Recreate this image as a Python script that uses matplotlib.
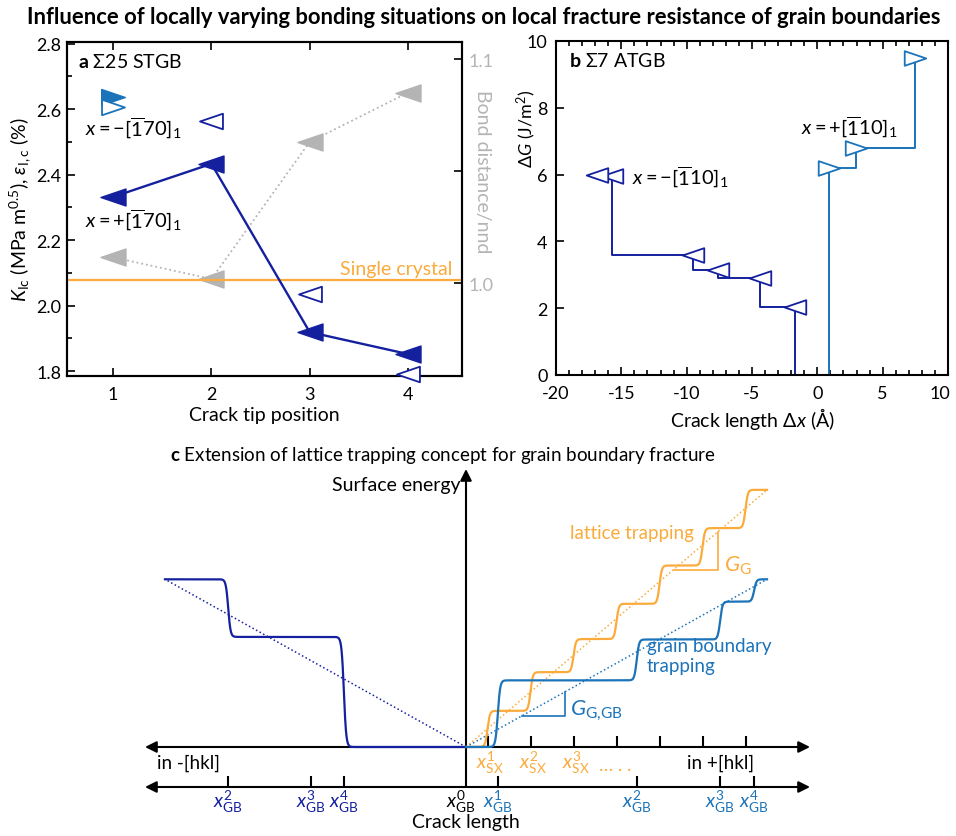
import numpy as np
import matplotlib
matplotlib.use("Agg")
import matplotlib.pyplot as plt
from matplotlib.path import Path
from matplotlib.ticker import MultipleLocator, FixedLocator, FuncFormatter

plt.rcParams["font.family"] = ["Lato", "DejaVu Sans"]
plt.rcParams["mathtext.fontset"] = "custom"
plt.rcParams["mathtext.rm"] = "Lato"
plt.rcParams["mathtext.it"] = "Lato:italic"
plt.rcParams["mathtext.bf"] = "Lato:bold"
plt.rcParams["mathtext.fallback"] = "stixsans"

NAVY = "#14209e"
BLUE = "#1b73b9"
ORANGE = "#fbab3c"
GREY = "#b4b4b4"

# ---------------- panel a: Sigma25 STGB ----------------
tip_pos = [1, 2, 3, 4]
k_plus = [2.332, 2.433, 1.919, 1.852]          # x = +[-170]_1 (filled)
k_minus_pos = [2, 3, 4]
k_minus = [2.565, 2.035, 1.79]                  # x = -[-170]_1 (open)
bond_ratio = [1.0115, 1.0018, 1.063, 1.085]     # bond distance / nnd
k_single_crystal = 2.078
ref_pos = [1]
ref_filled = [2.637]
ref_open = [2.607]

# ---------------- panel b: Sigma7 ATGB ----------------
dx_minus = [-1.7, -4.4, -7.6, -9.5, -15.7, -16.9]
dg_minus = [2.05, 2.9, 3.15, 3.6, 5.95, 6.0]
dx_plus = [0.9, 2.95, 7.45]
dg_plus = [6.2, 6.8, 9.5]

# ---------------- panel c: trapping schematic ----------------
sx_steps = [0.5, 1.5, 2.5, 3.5, 4.5, 5.5, 6.5]
sx_levels = [0.84, 1.74, 2.51, 3.33, 4.22, 5.09, 5.98]
sx_end = 7.0
gb_pos_steps = [0.74, 3.97, 5.91, 6.70]
gb_pos_levels = [1.55, 2.50, 3.38, 3.90]
gb_neg_steps = [-2.84, -5.53]
gb_neg_levels = [2.56, 3.90]
gb_neg_ticks = [-5.53, -3.60, -2.84]
gb_neg_names = [2, 3, 4]
gb_pos_names = [1, 2, 3, 4]
sx_names = [1, 2, 3]
gg_tri = [4.83, 5.86]
ggb_tri = [1.30, 2.30]

# triangle markers, wider than tall
TRI_L = Path([(-1, 0), (1, 0.68), (1, -0.68), (-1, 0)], closed=True)
TRI_R = Path([(1, 0), (-1, 0.68), (-1, -0.68), (1, 0)], closed=True)

W, H = 956, 837
fig = plt.figure(figsize=(W / 100, H / 100), dpi=100)


def box(x0, y0, x1, y1):
    return [x0 / W, 1 - y1 / H, (x1 - x0) / W, (y1 - y0) / H]


fig.text(484 / W, 1 - 17 / H,
         "Influence of locally varying bonding situations on local fracture resistance of grain boundaries",
         ha="center", va="center", fontsize=15.8, fontweight="bold")

# ---------- panel a ----------
ax = fig.add_axes(box(67, 43, 462, 377))
ax.set_xlim(0.53, 4.55)
ax.set_ylim(1.785, 2.805)
ax.yaxis.set_major_locator(MultipleLocator(0.2))
ax.yaxis.set_minor_locator(MultipleLocator(0.1))
ax.xaxis.set_major_locator(FixedLocator(tip_pos))
ax.tick_params(which="both", direction="in", top=True, right=False, width=1.2,
               labelsize=13)
ax.tick_params(which="major", length=6)
ax.tick_params(which="minor", length=3.5)
ax.tick_params(axis="x", pad=7)
ax.tick_params(axis="y", pad=4)
ax.yaxis.set_major_formatter(plt.FormatStrFormatter("%.1f"))
for s in ax.spines.values():
    s.set_linewidth(1.5)

ax2 = ax.twinx()
ax2.set_ylim(0.9585, 1.1076)
ax2.yaxis.set_major_locator(FixedLocator([1.0, 1.1]))
ax2.yaxis.set_minor_locator(FixedLocator([1.05]))
ax2.yaxis.set_major_formatter(plt.FormatStrFormatter("%.1f"))
ax2.tick_params(which="both", direction="in", width=1.2, labelsize=13,
                labelcolor=GREY, pad=5)
ax2.tick_params(which="major", length=6)
ax2.tick_params(which="minor", length=6)
for s in ax2.spines.values():
    s.set_linewidth(1.5)
ax2.set_ylabel("Bond distance/nnd", rotation=-90, color=GREY, fontsize=14,
               va="center")
ax2.yaxis.set_label_coords(1.053, 0.614)

ax2.plot(tip_pos, bond_ratio, ls=":", color=GREY, lw=1.3, zorder=2)
ax2.plot(tip_pos, bond_ratio, ls="none", marker=TRI_L, ms=18, mfc=GREY,
         mec=GREY, zorder=3)

ax.axhline(k_single_crystal, color=ORANGE, lw=1.6, zorder=1)
ax.text(0.975, 0.322, "Single crystal", transform=ax.transAxes, ha="right",
        va="center", color=ORANGE, fontsize=14)

ax.set_zorder(ax2.get_zorder() + 1)
ax.patch.set_visible(False)
ax.plot(tip_pos, k_plus, color=NAVY, lw=1.7, zorder=2)
ax.plot(tip_pos, k_plus, ls="none", marker=TRI_L, ms=18, mfc=NAVY, mec=NAVY,
        zorder=3)
ax.plot(k_minus_pos, k_minus, ls="none", marker=TRI_L, ms=16.5, mfc="white",
        mec=NAVY, mew=1.3, zorder=4, clip_on=False)
ax.plot(ref_pos, ref_filled, ls="none", marker=TRI_R, ms=17, mfc=BLUE,
        mec=BLUE, zorder=4)
ax.plot(ref_pos, ref_open, ls="none", marker=TRI_R, ms=16.5, mfc="white",
        mec=BLUE, mew=1.3, zorder=5)

ax.text(0.028, 0.943, r"$\mathbf{a}$ Σ25 STGB", transform=ax.transAxes,
        fontsize=14, va="center")
ax.text(0.046, 0.745, r"$x = -[\overline{1}70]_1$", transform=ax.transAxes,
        fontsize=14.5, va="center")
ax.text(0.046, 0.47, r"$x = +[\overline{1}70]_1$", transform=ax.transAxes,
        fontsize=14.5, va="center")
ax.set_xlabel("Crack tip position", fontsize=14, labelpad=3)
ax.set_ylabel(r"$K_{\mathrm{Ic}}$ (MPa m$^{0.5}$), $\varepsilon_{\mathrm{I,c}}$ (%)",
              fontsize=14)
ax.yaxis.set_label_coords(-0.087, 0.5)

# ---------- panel b ----------
bx = fig.add_axes(box(556, 42, 948, 376))
bx.set_xlim(-20, 10)
bx.set_ylim(0, 10)
bx.xaxis.set_major_locator(MultipleLocator(5))
bx.xaxis.set_minor_locator(MultipleLocator(1))
bx.yaxis.set_major_locator(MultipleLocator(2))
# the label at the right end is placed by hand so it stays inside the figure
bx.xaxis.set_major_formatter(
    FuncFormatter(lambda v, p: "" if v >= 10 else f"{v:.0f}"))
bx.tick_params(which="both", direction="in", top=True, width=1.2, labelsize=13)
bx.tick_params(which="major", length=6)
bx.tick_params(which="minor", length=3.5)
bx.tick_params(axis="x", pad=7)
bx.tick_params(axis="y", pad=6)
for s in bx.spines.values():
    s.set_linewidth(1.5)
bx.text(1.005, -0.029, "10", transform=bx.transAxes, ha="right", va="top",
        fontsize=13)

sx_m = [dx_minus[0]] + dx_minus
sy_m = [0] + dg_minus
bx.step(sx_m, sy_m, where="post", color=NAVY, lw=1.4, zorder=2)
bx.plot(dx_minus, dg_minus, ls="none", marker=TRI_L, ms=15.5, mfc="white",
        mec=NAVY, mew=1.3, zorder=3)
sx_p = [dx_plus[0]] + dx_plus
sy_p = [0] + dg_plus
bx.step(sx_p, sy_p, where="post", color=BLUE, lw=1.4, zorder=2)
bx.plot(dx_plus, dg_plus, ls="none", marker=TRI_R, ms=15.5, mfc="white",
        mec=BLUE, mew=1.3, zorder=3)

bx.text(0.033, 0.943, r"$\mathbf{b}$ Σ7 ATGB", transform=bx.transAxes,
        fontsize=14, va="center")
bx.text(-14.2, 5.95, r"$x = -[\overline{1}10]_1$", fontsize=14.5, va="center")
bx.text(-1.25, 7.45, r"$x = +[\overline{1}10]_1$", fontsize=14.5, va="center")
bx.set_xlabel(r"Crack length $\Delta x$ (Å)", fontsize=14, labelpad=3)
bx.set_ylabel(r"$\Delta G$ (J/m$^2$)", fontsize=13)
bx.yaxis.set_label_coords(-0.045, 0.74)

# ---------- panel c ----------
U = 43.0          # pixels per schematic unit
OX, OY = 466, 748  # origin in pixels
cx = fig.add_axes(box(130, 465, 830, 835))
cx.set_xlim((130 - OX) / U, (830 - OX) / U)
cx.set_ylim((OY - 835) / U, (OY - 465) / U)
cx.axis("off")

fig.text(170 / W, 1 - 456 / H,
         r"$\mathbf{c}$ Extension of lattice trapping concept for grain boundary fracture",
         fontsize=13.5, va="center", ha="left")

y_low = (OY - 788) / U
x_left = (145 - OX) / U
x_right = (810 - OX) / U
y_top = (OY - 470) / U
arrow = dict(color="k", lw=1.5, mutation_scale=17, shrinkA=0, shrinkB=0)
cx.annotate("", xy=(x_right, 0), xytext=(x_left, 0),
            arrowprops=dict(arrowstyle="<|-|>", **arrow))
cx.annotate("", xy=(x_right, y_low), xytext=(x_left, y_low),
            arrowprops=dict(arrowstyle="<|-|>", **arrow))
cx.annotate("", xy=(0, y_top), xytext=(0, y_low),
            arrowprops=dict(arrowstyle="-|>", **arrow))

tick_h = 0.26
cx.vlines(sx_steps, 0, tick_h, color="k", lw=1.5)
cx.vlines(gb_pos_steps + gb_neg_ticks, y_low, y_low + tick_h, color="k", lw=1.5)


def smooth_steps(x, steps, levels, w=0.055, sign=1):
    y = np.zeros_like(x)
    prev = 0.0
    for s, lv in zip(steps, levels):
        y += (lv - prev) * 0.5 * (1 + np.tanh(sign * (x - s) / w))
        prev = lv
    return y


xs = np.linspace(0, sx_end, 1500)
cx.plot(xs, smooth_steps(xs, sx_steps, sx_levels), color=ORANGE, lw=1.6, zorder=4)
cx.plot([0, sx_end], [0, sx_levels[-1]], ls=":", color=ORANGE, lw=1.1, zorder=3)
cx.plot(xs, smooth_steps(xs, gb_pos_steps, gb_pos_levels), color=BLUE, lw=1.6,
        zorder=5)
cx.plot([0, sx_end], [0, gb_pos_levels[-1]], ls=":", color=BLUE, lw=1.1, zorder=3)
xn = np.linspace(-sx_end, 0, 1500)
cx.plot(xn, smooth_steps(xn, gb_neg_steps, gb_neg_levels, sign=-1), color=NAVY,
        lw=1.6, zorder=4)
cx.plot([0, -sx_end], [0, gb_neg_levels[-1]], ls=":", color=NAVY, lw=1.1, zorder=3)

# slope triangles
k_sx = sx_levels[-1] / sx_end
k_gb = gb_pos_levels[-1] / sx_end
cx.plot([gg_tri[0], gg_tri[1], gg_tri[1]],
        [k_sx * gg_tri[0], k_sx * gg_tri[0], k_sx * gg_tri[1]],
        color=ORANGE, lw=1.2, zorder=3)
cx.plot([ggb_tri[0], ggb_tri[1], ggb_tri[1]],
        [k_gb * ggb_tri[0], k_gb * ggb_tri[0], k_gb * ggb_tri[1]],
        color=BLUE, lw=1.2, zorder=3)
cx.text(gg_tri[1] + 0.15, k_sx * gg_tri[0] + 0.12, r"$G_{\mathrm{G}}$",
        color=ORANGE, fontsize=16, va="center")
cx.text(ggb_tri[1] + 0.12, k_gb * ggb_tri[0] + 0.15, r"$G_{\mathrm{G{,}GB}}$",
        color=BLUE, fontsize=16, va="center")

cx.text(2.42, 5.0, "lattice trapping", color=ORANGE, fontsize=13.5, va="center")
cx.text(4.21, 2.13, "grain boundary\ntrapping", color=BLUE, fontsize=13.5,
        va="center", linespacing=1.25)

lab_sx_y = (OY - 763) / U
lab_gb_y = (OY - 802) / U
for n, s in zip(sx_names, sx_steps):
    cx.text(s + 0.05, lab_sx_y, rf"$x^{{{n}}}_{{\mathrm{{SX}}}}$", color=ORANGE,
            fontsize=14, ha="center", va="center")
cx.text(3.1, lab_sx_y - 0.05, "… . .", color=ORANGE, fontsize=13.5, va="center")
for n, s in zip(gb_pos_names, gb_pos_steps):
    cx.text(s, lab_gb_y, rf"$x^{{{n}}}_{{\mathrm{{GB}}}}$", color=BLUE,
            fontsize=14, ha="center", va="center")
for n, s in zip(gb_neg_names, gb_neg_ticks):
    cx.text(s, lab_gb_y, rf"$x^{{{n}}}_{{\mathrm{{GB}}}}$", color=NAVY,
            fontsize=14, ha="center", va="center")
cx.text(-0.12, lab_gb_y, r"$x^{0}_{\mathrm{GB}}$", color="k", fontsize=14,
        ha="center", va="center")

cx.text((157 - OX) / U, lab_sx_y, "in -[hkl]", fontsize=13.5, va="center")
cx.text((687 - OX) / U, lab_sx_y, "in +[hkl]", fontsize=13.5, va="center")
cx.text(0, (OY - 823) / U, "Crack length", fontsize=14, ha="center", va="center")
cx.text(-0.12, (OY - 485) / U, "Surface energy", fontsize=14, ha="right",
        va="center")

fig.savefig("out.png", dpi=100)
